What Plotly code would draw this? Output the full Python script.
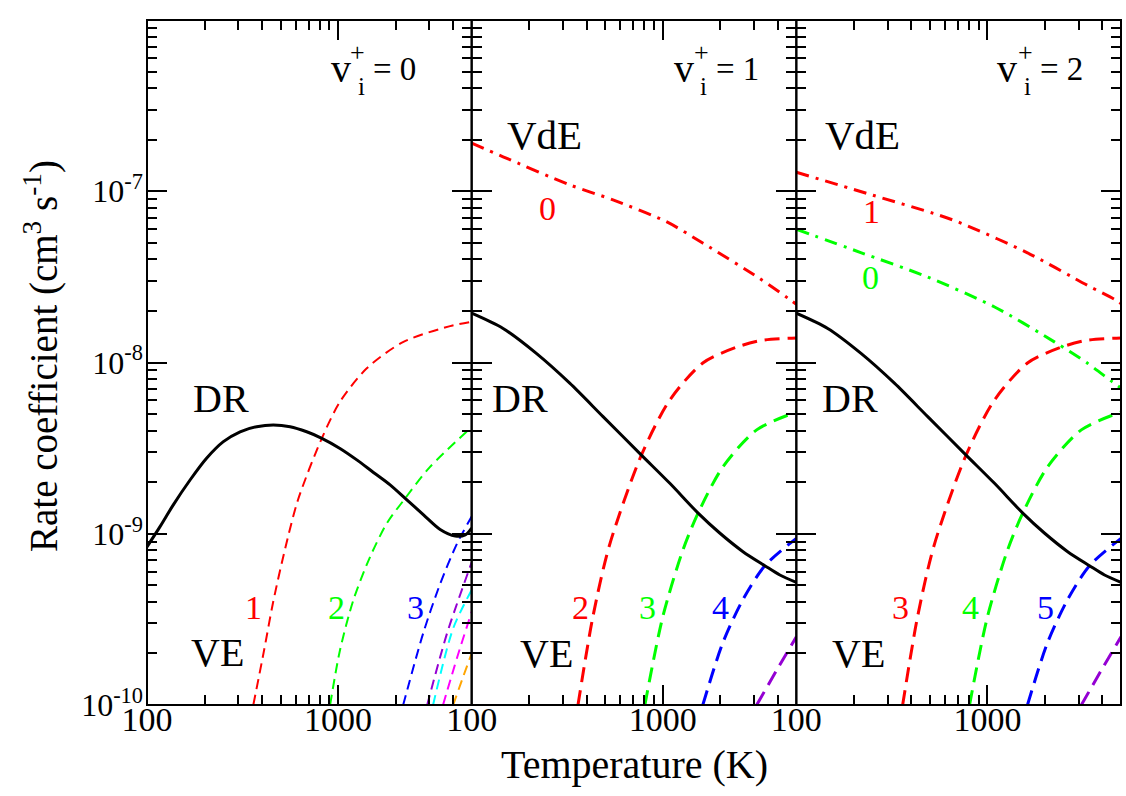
import numpy as np
import plotly.graph_objects as go
from plotly.subplots import make_subplots

FONT = "Liberation Serif, Times New Roman, serif"

# ---------------- data (temperature K, rate coefficient cm^3 s^-1) ----------------
# Panel 1 : v_i^+ = 0
T_dr_p1 = [100, 117, 137, 168, 205, 251, 307, 375, 458, 561, 685, 822, 1023, 1253, 1531, 1871, 2244, 2799, 3420, 4102, 4624, 5000]
k_dr_p1 = [8.39e-10, 1.10e-9, 1.47e-9, 2.06e-9, 2.76e-9, 3.45e-9, 3.94e-9, 4.22e-9, 4.32e-9, 4.22e-9, 3.94e-9, 3.61e-9,
           3.15e-9, 2.70e-9, 2.28e-9, 1.93e-9, 1.61e-9, 1.29e-9, 1.06e-9, 9.70e-10, 9.84e-10, 1.08e-9]
T_ve1_p1 = [360, 410, 457, 525, 617, 822, 1023, 1413, 2198, 3855, 5000]
k_ve1_p1 = [1.0e-10, 2.09e-10, 3.98e-10, 7.94e-10, 1.58e-9, 3.61e-9, 5.9e-9, 9.25e-9, 1.32e-8, 1.63e-8, 1.73e-8]
T_ve2_p1 = [908, 1023, 1202, 1469, 1807, 2244, 3020, 5000]
k_ve2_p1 = [1.0e-10, 2.09e-10, 4.10e-10, 7.31e-10, 1.16e-9, 1.61e-9, 2.45e-9, 4.2e-9]
T_ve3_p1 = [2190, 2790, 3420, 4200, 5000]
k_ve3_p1 = [1.0e-10, 2.63e-10, 5.1e-10, 8.8e-10, 1.26e-9]
T_ve4_p1 = [2925, 3720, 5000]
k_ve4_p1 = [1.0e-10, 2.63e-10, 6.8e-10]
T_ve5_p1 = [3140, 4000, 5000]
k_ve5_p1 = [1.0e-10, 2.8e-10, 4.7e-10]
T_ve6_p1 = [3540, 4200, 5000]
k_ve6_p1 = [1.0e-10, 1.9e-10, 3.5e-10]
T_ve7_p1 = [4000, 4500, 5000]
k_ve7_p1 = [1.0e-10, 1.45e-10, 2.0e-10]

# Panel 2 : v_i^+ = 1
T_dr_p2 = [100, 146, 218, 326, 487, 773, 1089, 1531, 1986, 2630, 3420, 4100, 5000]
k_dr_p2 = [1.94e-8, 1.58e-8, 1.13e-8, 7.57e-9, 4.83e-9, 2.88e-9, 1.97e-9, 1.32e-9, 1.01e-9, 7.86e-10, 6.51e-10, 5.74e-10, 5.2e-10]
T_vde0_p2 = [100, 146, 326, 549, 1045, 1626, 3220, 4530, 5000]
k_vde0_p2 = [1.91e-7, 1.59e-7, 1.09e-7, 8.9e-8, 6.64e-8, 4.97e-8, 3.09e-8, 2.37e-8, 2.19e-8]
T_ve2_p2 = [360, 431, 525, 773, 1089, 1620, 2440, 3340, 5000]
k_ve2_p2 = [1.0e-10, 3.28e-10, 8.5e-10, 2.88e-9, 6.04e-9, 9.93e-9, 1.23e-8, 1.35e-8, 1.39e-8]
T_ve3_p2 = [806, 1000, 1273, 1531, 2060, 3100, 5000]
k_ve3_p2 = [1.0e-10, 3.27e-10, 8.0e-10, 1.32e-9, 2.45e-9, 4.04e-9, 5.14e-9]
T_ve4_p2 = [1620, 2060, 2620, 3420, 5000]
k_ve4_p2 = [1.0e-10, 2.3e-10, 4.1e-10, 6.5e-10, 9.4e-10]
T_ve5_p2 = [3100, 3950, 5000]
k_ve5_p2 = [1.0e-10, 1.6e-10, 2.5e-10]

# Panel 3 : v_i^+ = 2
T_dr_p3 = [100, 146, 218, 326, 487, 773, 1089, 1531, 1986, 2630, 3420, 4100, 5000]
k_dr_p3 = [1.94e-8, 1.58e-8, 1.13e-8, 7.57e-9, 4.83e-9, 2.88e-9, 1.97e-9, 1.32e-9, 1.01e-9, 7.86e-10, 6.51e-10, 5.74e-10, 5.2e-10]
T_vde1_p3 = [100, 250, 561, 731, 1620, 3340, 4620, 5000]
k_vde1_p3 = [1.29e-7, 9.5e-8, 7.24e-8, 6.5e-8, 4.37e-8, 2.82e-8, 2.34e-8, 2.21e-8]
T_vde0_p3 = [100, 219, 485, 1090, 2240, 3340, 4510, 5000]
k_vde0_p3 = [6.0e-8, 4.37e-8, 3.16e-8, 2.11e-8, 1.32e-8, 9.9e-9, 7.7e-9, 7.1e-9]
T_ve3_p3 = [360, 431, 525, 773, 1089, 1620, 2440, 3340, 5000]
k_ve3_p3 = [1.0e-10, 3.28e-10, 8.5e-10, 2.88e-9, 6.04e-9, 9.93e-9, 1.23e-8, 1.35e-8, 1.39e-8]
T_ve4_p3 = [806, 1000, 1273, 1531, 2060, 3100, 5000]
k_ve4_p3 = [1.0e-10, 3.27e-10, 8.0e-10, 1.32e-9, 2.45e-9, 4.04e-9, 5.14e-9]
T_ve5_p3 = [1620, 2060, 2620, 3420, 5000]
k_ve5_p3 = [1.0e-10, 2.3e-10, 4.1e-10, 6.5e-10, 9.4e-10]
T_ve6_p3 = [3100, 3950, 5000]
k_ve6_p3 = [1.0e-10, 1.6e-10, 2.5e-10]

# axis ticks
x_major = [100, 1000]
x_major_text = ["100", "1000"]
x_minor = [200, 300, 400, 500, 600, 700, 800, 900, 2000, 3000, 4000]
y_major = [1e-10, 1e-9, 1e-8, 1e-7, 1e-6]
y_major_text = ["10<sup>-10</sup>", "10<sup>-9</sup>", "10<sup>-8</sup>", "10<sup>-7</sup>", "10<sup>-6</sup>"]
y_minor = [m * 10.0 ** e for e in range(-10, -6) for m in range(2, 10)]

RED, GREEN, BLUE = "#ff0000", "#00ff00", "#0000ff"
VIOLET, CYAN, MAGENTA, ORANGE = "#9400d3", "#00ffff", "#ff00ff", "#ffa500"

fig = make_subplots(rows=1, cols=3, shared_yaxes=True, horizontal_spacing=0)


def add(col, T, k, color, width, dash):
    fig.add_trace(go.Scatter(x=T, y=k, mode="lines",
                             line=dict(color=color, width=width, dash=dash, shape="spline", smoothing=0.8),
                             showlegend=False, hoverinfo="skip"), row=1, col=col)


D1 = "10px,6px"
D2 = "15px,8px"
DD = "13px,7px,3px,7px"

# panel 1
add(1, T_ve1_p1, k_ve1_p1, RED, 2, D1)
add(1, T_ve2_p1, k_ve2_p1, GREEN, 2, D1)
add(1, T_ve3_p1, k_ve3_p1, BLUE, 2, D1)
add(1, T_ve4_p1, k_ve4_p1, VIOLET, 2, D1)
add(1, T_ve5_p1, k_ve5_p1, CYAN, 2, D1)
add(1, T_ve6_p1, k_ve6_p1, MAGENTA, 2, D1)
add(1, T_ve7_p1, k_ve7_p1, ORANGE, 2, D1)
add(1, T_dr_p1, k_dr_p1, "black", 3, "solid")
# panel 2
add(2, T_vde0_p2, k_vde0_p2, RED, 3, DD)
add(2, T_ve2_p2, k_ve2_p2, RED, 3, D2)
add(2, T_ve3_p2, k_ve3_p2, GREEN, 3, D2)
add(2, T_ve4_p2, k_ve4_p2, BLUE, 3, D2)
add(2, T_ve5_p2, k_ve5_p2, VIOLET, 3, D2)
add(2, T_dr_p2, k_dr_p2, "black", 3, "solid")
# panel 3
add(3, T_vde1_p3, k_vde1_p3, RED, 3, DD)
add(3, T_vde0_p3, k_vde0_p3, GREEN, 3, DD)
add(3, T_ve3_p3, k_ve3_p3, RED, 3, D2)
add(3, T_ve4_p3, k_ve4_p3, GREEN, 3, D2)
add(3, T_ve5_p3, k_ve5_p3, BLUE, 3, D2)
add(3, T_ve6_p3, k_ve6_p3, VIOLET, 3, D2)
add(3, T_dr_p3, k_dr_p3, "black", 3, "solid")

for c in (1, 2, 3):
    fig.update_xaxes(type="log", range=[2, np.log10(5000)], tickmode="array", tickvals=x_major,
                     ticktext=x_major_text, ticks="inside", ticklen=20, tickwidth=1.5, tickcolor="black",
                     showline=False, mirror="ticks", showgrid=False,
                     zeroline=False, tickfont=dict(family=FONT, size=34, color="black"), automargin=False,
                     ticklabelstandoff=-9,
                     minor=dict(tickmode="array", tickvals=x_minor, ticks="inside", ticklen=10,
                                tickwidth=1.5, tickcolor="black", showgrid=False),
                     row=1, col=c)
    fig.update_yaxes(type="log", range=[-10, -6], tickmode="array", tickvals=y_major,
                     ticktext=y_major_text, ticks="inside", ticklen=20, tickwidth=1.5, tickcolor="black",
                     showline=False, mirror="ticks", showgrid=False,
                     zeroline=False, tickfont=dict(family=FONT, size=32, color="black"),
                     showticklabels=(c == 1), automargin=False, ticklabelstandoff=3,
                     minor=dict(tickmode="array", tickvals=y_minor, ticks="inside", ticklen=10,
                                tickwidth=1.5, tickcolor="black", showgrid=False),
                     row=1, col=c)
    xs = "" if c == 1 else str(c)
    fig.add_shape(type="rect", xref="x%s domain" % xs, yref="y%s domain" % xs, x0=0, x1=1, y0=0, y1=1,
                  line=dict(color="black", width=2), fillcolor="rgba(0,0,0,0)", layer="above")

W, H = 1126, 796
L, R, TOP, B = 147, 1121, 20, 705


def ann(text, px, py, size, color="black", xanchor="center", angle=0):
    fig.add_annotation(text=text, x=(px - L) / (R - L), y=(B - py) / (B - TOP), xref="paper", yref="paper",
                       xanchor=xanchor, yanchor="middle", showarrow=False, textangle=angle,
                       font=dict(family=FONT, size=size, color=color))


ann("Temperature (K)", 634, 764, 40)
ann("Rate coefficient (cm<sup>3</sup> s<sup>-1</sup>)", 41, 356, 39, angle=-90)

# panel labels
for (vx, px_plus, px_i, eqx, eqtext) in [(341, 357, 361, 371, "= 0"), (684, 701, 703, 714, "= 1"),
                                         (1007, 1025, 1027, 1038, "= 2")]:
    ann("v", vx, 68, 40)
    ann("+", px_plus, 53, 26)
    ann("i", px_i, 86, 25)
    ann(eqtext, eqx, 69, 33, xanchor="left")

ann("DR", 221, 398, 40)
ann("VE", 217, 652, 40)
ann("1", 253, 607, 34, RED)
ann("2", 336, 607, 34, GREEN)
ann("3", 415, 607, 34, BLUE)

ann("VdE", 544, 135, 41)
ann("0", 547, 208, 34, RED)
ann("DR", 520, 398, 40)
ann("VE", 546, 653, 40)
ann("2", 580, 607, 34, RED)
ann("3", 647, 607, 34, GREEN)
ann("4", 720, 607, 34, BLUE)

ann("VdE", 862, 135, 41)
ann("1", 871, 212, 34, RED)
ann("0", 870, 277, 34, GREEN)
ann("DR", 850, 398, 40)
ann("VE", 858, 653, 40)
ann("3", 900, 607, 34, RED)
ann("4", 970, 607, 34, GREEN)
ann("5", 1045, 607, 34, BLUE)

fig.update_layout(width=W, height=H, margin=dict(l=L, r=W - R, t=TOP, b=H - B),
                  paper_bgcolor="white", plot_bgcolor="white", showlegend=False,
                  font=dict(family=FONT, color="black"))

post = ("document.body.style.margin='0px';document.body.style.overflow='hidden';"
        "Plotly.relayout(document.getElementById('{plot_id}'), {width: %d, height: %d});" % (W, H))
fig.write_html("out.html", config={"displayModeBar": False}, post_script=post)
